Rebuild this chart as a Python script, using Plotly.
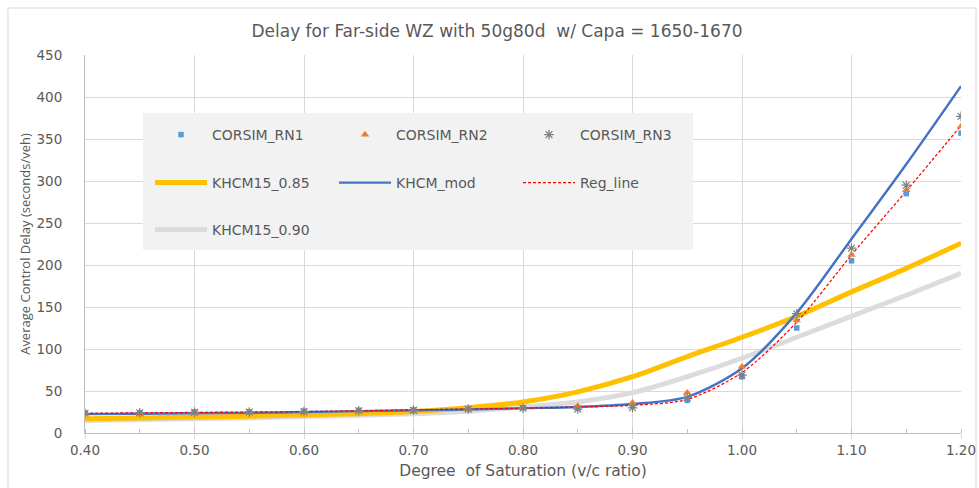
import plotly.graph_objects as go

# Degree of saturation (v/c ratio)
vc = [0.40, 0.45, 0.50, 0.55, 0.60, 0.65, 0.70, 0.75, 0.80,
      0.85, 0.90, 0.95, 1.00, 1.05, 1.10, 1.15, 1.20]

# Simulated delays (seconds/veh), three CORSIM runs
corsim_rn1 = [24, 24, 25, 25, 26, 27, 27.5, 28.5, 30, 30, 33, 39, 67, 125, 205, 285, 357]
corsim_rn2 = [23, 23.5, 24, 24.5, 25.5, 26, 27, 28.5, 30, 32, 36, 48, 79, 134, 212, 289, 365]
corsim_rn3 = [23.5, 24, 24.5, 25, 25.5, 26.5, 27, 28.5, 29.5, 28.5, 30, 42, 69, 142, 220, 295, 377]

# Model curves
khcm15_085 = [17, 18, 19, 20, 21.5, 23, 25.5, 30, 37, 49, 67, 91, 114, 139, 168, 196, 226]
khcm15_090 = [15, 16, 17, 18, 19.5, 21, 23, 26, 31, 37, 48, 67, 89, 114, 139, 164, 190]
khcm_mod = [22.5, 23, 23.5, 24, 25, 26, 27, 28, 29.5, 31, 34.5, 43, 77, 143, 231, 320, 413]
reg_line = [23.5, 24, 24.5, 25, 25.5, 26.5, 27.5, 28.5, 29.5, 31, 33, 40, 72, 132, 212, 288, 366]

x_ticks = [0.40, 0.50, 0.60, 0.70, 0.80, 0.90, 1.00, 1.10, 1.20]
x_tick_text = ["0.40", "0.50", "0.60", "0.70", "0.80", "0.90", "1.00", "1.10", "1.20"]
y_ticks = [0, 50, 100, 150, 200, 250, 300, 350, 400, 450]

FONT = "DejaVu Sans"
VFONT = "Open Sans"
TXT = "#595959"
W, H = 979, 488
# plot-area box in pixels
PL, PR, PT, PB = 85, 961, 55, 433


def px_x(px):
    return (px - PL) / (PR - PL)


def px_y(py):
    return (PB - py) / (PB - PT)


fig = go.Figure()

# curves (third row and second row of the legend)
fig.add_trace(go.Scatter(x=vc, y=khcm15_090, name="KHCM15_0.90", mode="lines",
                         line=dict(color="#DCDCDC", width=5, shape="spline", smoothing=0.8),
                         legend="legend3"))
fig.add_trace(go.Scatter(x=vc, y=khcm15_085, name="KHCM15_0.85", mode="lines",
                         line=dict(color="#FFC000", width=5, shape="spline", smoothing=0.8),
                         legend="legend2"))
fig.add_trace(go.Scatter(x=vc, y=khcm_mod, name="KHCM_mod", mode="lines",
                         line=dict(color="#4472C4", width=2.4, shape="spline", smoothing=0.8),
                         legend="legend2"))
fig.add_trace(go.Scatter(x=vc, y=reg_line, name="Reg_line", mode="lines",
                         line=dict(color="#FF0000", width=1.25, dash="3px,2px",
                                   shape="spline", smoothing=0.8),
                         legend="legend2"))

# simulation points (first legend row)
fig.add_trace(go.Scatter(x=vc, y=corsim_rn1, name="CORSIM_RN1", mode="markers",
                         marker=dict(symbol="square", size=5.5, color="#5B9BD5"),
                         legend="legend"))
fig.add_trace(go.Scatter(x=vc, y=corsim_rn2, name="CORSIM_RN2", mode="markers",
                         marker=dict(symbol="triangle-up", size=7.5, color="#ED7D31"),
                         legend="legend"))
fig.add_trace(go.Scatter(x=vc, y=corsim_rn3, name="CORSIM_RN3", mode="markers",
                         marker=dict(symbol="asterisk-open", size=8, color="#7F7F7F",
                                     line=dict(color="#7F7F7F", width=1.2)),
                         legend="legend"))

leg_common = dict(orientation="h", xref="paper", yref="paper",
                  xanchor="left", yanchor="middle", bgcolor="rgba(0,0,0,0)",
                  font=dict(family=FONT, size=14, color=TXT),
                  itemwidth=52, entrywidth=117, entrywidthmode="pixels",
                  traceorder="normal")

fig.update_layout(
    width=W, height=H,
    margin=dict(l=PL, r=W - PR, t=PT, b=H - PB),
    paper_bgcolor="white", plot_bgcolor="white",
    font=dict(family=FONT, color=TXT, size=14),
    title=dict(text="Delay for Far-side WZ with 50g80d\u00a0 w/ Capa = 1650-1670",
               x=497 / W, xref="container", xanchor="center",
               y=1 - 31 / H, yref="container", yanchor="middle",
               font=dict(family=FONT, size=17, color=TXT)),
    legend=dict(**leg_common, x=px_x(150), y=px_y(135)),
    legend2=dict(**leg_common, x=px_x(150), y=px_y(183)),
    legend3=dict(**leg_common, x=px_x(150), y=px_y(230)),
    xaxis=dict(range=[0.40, 1.20], tickvals=x_ticks, ticktext=x_tick_text,
               showgrid=True, gridcolor="#D9D9D9", gridwidth=1,
               showline=True, linecolor="#BFBFBF", linewidth=1,
               ticks="outside", ticklen=5, tickcolor="#D9D9D9",
               minor=dict(dtick=0.05, ticks="inside", ticklen=4, tickcolor="#BFBFBF",
                          showgrid=False),
               tickfont=dict(family=FONT, size=13.5, color=TXT),
               title=dict(text="Degree\u00a0 of Saturation (v/c ratio)", standoff=7,
                          font=dict(family=FONT, size=15.5, color=TXT)),
               zeroline=False, fixedrange=True, automargin=False),
    yaxis=dict(range=[0, 450], tickvals=y_ticks,
               showgrid=True, gridcolor="#D9D9D9", gridwidth=1,
               showline=True, linecolor="#BFBFBF", linewidth=1,
               ticks="", ticklabelstandoff=19,
               tickfont=dict(family=FONT, size=13.5, color=TXT),
               title=dict(text="Average Control Delay (seconds/veh)", standoff=2,
                          font=dict(family=VFONT, size=13, color=TXT)),
               zeroline=False, fixedrange=True, automargin=False),
    shapes=[
        # chart frame
        dict(type="rect", xref="paper", yref="paper",
             x0=px_x(8), x1=px_x(976), y0=px_y(492), y1=px_y(8),
             line=dict(color="#D9D9D9", width=1), fillcolor="rgba(0,0,0,0)",
             layer="below"),
        # legend panel
        dict(type="rect", xref="paper", yref="paper",
             x0=px_x(143), x1=px_x(693), y0=px_y(250), y1=px_y(113),
             line=dict(width=0), fillcolor="#F2F2F2", layer="above"),
    ],
)

fig.write_html("out.html")
